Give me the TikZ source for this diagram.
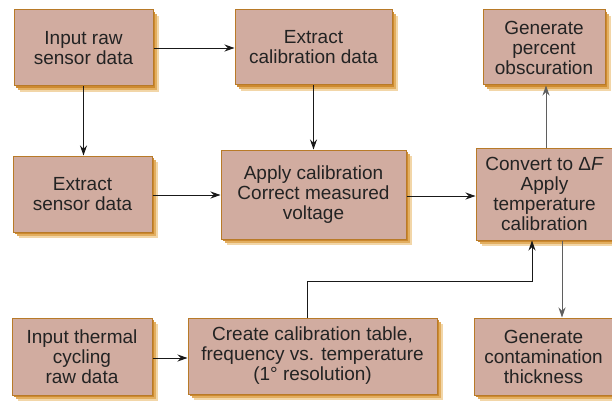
\documentclass[tikz,border=0pt]{standalone}
\usepackage{fontspec}
\setmainfont{Liberation Sans}
\usetikzlibrary{arrows.meta,shadows}

\definecolor{boxfill}{RGB}{209,172,160}
\definecolor{boxline}{RGB}{184,122,40}
\definecolor{shadeA}{RGB}{205,138,48}
\definecolor{shadeB}{RGB}{226,174,96}
\definecolor{shadeC}{RGB}{242,214,168}
\definecolor{txt}{RGB}{35,35,35}
\definecolor{wire}{RGB}{25,25,25}
\definecolor{wiregray}{RGB}{95,95,95}

\tikzset{
  procbox/.style={
    draw=boxline, line width=1pt, fill=boxfill, text=txt,
    align=center, inner sep=0pt, anchor=center,
    font=\fontsize{19}{20}\selectfont,
    general shadow={shadow xshift=6pt, shadow yshift=-6pt, fill=shadeC},
    general shadow={shadow xshift=4pt, shadow yshift=-4pt, fill=shadeB},
    general shadow={shadow xshift=2pt, shadow yshift=-2pt, fill=shadeA}},
  flow/.style={draw=wire, line width=0.9pt, -{Stealth[length=10pt,width=7pt]}},
  flowgray/.style={flow, draw=wiregray}
}

\begin{document}
\begin{tikzpicture}[x=1pt, y=-1pt]
  \useasboundingbox (0,0) rectangle (612,401);
  \begin{scope}
  \clip (0,0) rectangle (612,401);

  % top row
  \node[procbox, minimum width=139pt, minimum height=76pt] (b1) at (83.5,48) {Input raw\\sensor data};
  \node[procbox, minimum width=157pt, minimum height=75pt] (b2) at (313.5,47.5) {Extract\\calibration data};
  \node[procbox, minimum width=122pt, minimum height=75pt] (b3) at (544,47.5) {Generate\\percent\\obscuration};

  % middle row
  \node[procbox, minimum width=139pt, minimum height=76pt] (b4) at (82.5,194) {Extract\\sensor data};
  \node[procbox, minimum width=185pt, minimum height=89pt] (b5) at (313.5,194.5) {Apply calibration\\Correct measured\\voltage};
  \node[procbox, minimum width=137pt, minimum height=92pt] (b6) at (544.5,194) {Convert to Δ\textit{F}\\Apply\\temperature\\calibration};

  % bottom row
  \node[procbox, minimum width=140pt, minimum height=77pt] (b7) at (82,356.5) {Input thermal\\cycling\\raw data};
  \node[procbox, minimum width=249pt, minimum height=76pt] (b8) at (312.5,356) {Create calibration table,\\frequency vs. temperature\\(1° resolution)};
  \node[procbox, minimum width=139pt, minimum height=77pt] (b9) at (543.5,356.5) {Generate\\contamination\\thickness};

  % connectors
  \draw[flow] (b1.east) -- (b1.east -| b2.west);
  \draw[flow] (b1.south) -- (b1.south |- b4.north);
  \draw[flow] (b2.south) -- (b2.south |- b5.north);
  \draw[flow] ([yshift=-1pt]b4.east) -- ([yshift=-1pt]b4.east -| b5.west);
  \draw[flow] ([yshift=-1.5pt]b5.east) -- ([yshift=-1.5pt]b5.east -| b6.west);
  \draw[flowgray] ([xshift=2pt]b3.south |- b6.north) -- ([xshift=2pt]b3.south);
  \draw[flowgray] ([xshift=18.5pt]b9.north |- b6.south) -- ([xshift=18.5pt]b9.north);
  \draw[flow] ([yshift=-1.5pt]b7.east) -- ([yshift=-1.5pt]b7.east -| b8.west);
  \coordinate (up) at ([xshift=-5.5pt, yshift=36pt]b8.north);
  \draw[flow] ([xshift=-5.5pt]b8.north) -- (up) -| ([xshift=-12.5pt]b6.south);
  \end{scope}
\end{tikzpicture}
\end{document}
